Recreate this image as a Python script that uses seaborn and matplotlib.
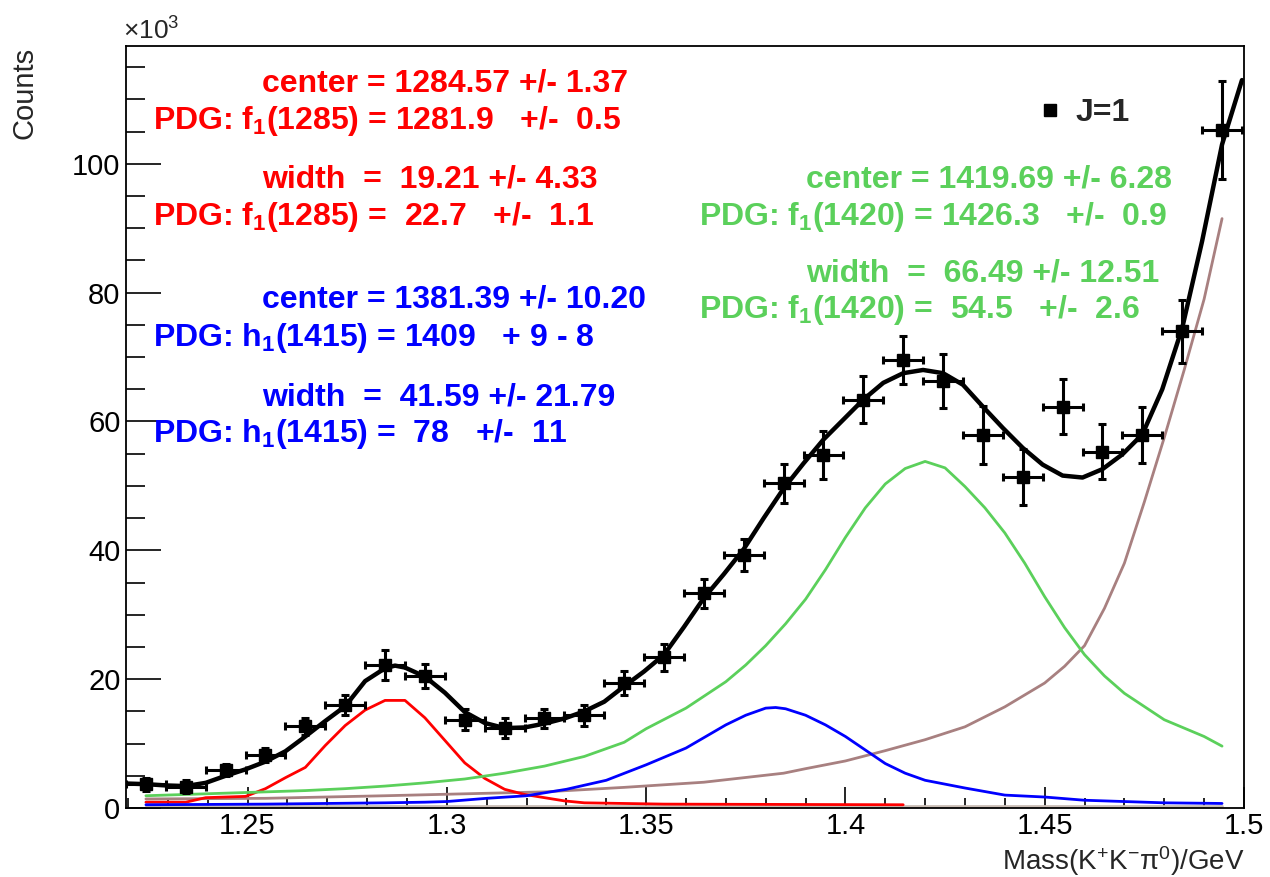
import numpy as np
import pandas as pd
import matplotlib
matplotlib.use("Agg")
import matplotlib.pyplot as plt
from matplotlib.ticker import MultipleLocator
from matplotlib.lines import Line2D
import seaborn as sns

# data points (mass bin centres, counts in units of 10^3)
mass = [1.2245, 1.2345, 1.2445, 1.2545, 1.2645, 1.2745, 1.2845, 1.2945,
        1.3045, 1.3145, 1.3245, 1.3345, 1.3445, 1.3545, 1.3645, 1.3745,
        1.3845, 1.3945, 1.4045, 1.4145, 1.4245, 1.4345, 1.4445, 1.4545,
        1.4645, 1.4745, 1.4845, 1.4945]
counts = [3.7, 3.3, 5.9, 8.2, 12.7, 16.0, 22.2, 20.5,
          13.7, 12.4, 13.9, 14.4, 19.4, 23.4, 33.3, 39.3,
          50.4, 54.8, 63.4, 69.5, 66.3, 57.9, 51.4, 62.3,
          55.3, 57.9, 74.0, 105.3]
count_err = [1.0, 1.0, 1.0, 1.1, 1.3, 1.6, 2.3, 1.9,
             1.6, 1.5, 1.5, 1.6, 1.8, 2.1, 2.3, 2.5,
             3.0, 3.8, 3.7, 3.7, 4.2, 4.5, 4.4, 4.3,
             4.3, 4.4, 4.9, 7.6]
bin_half = 0.005

# total fit
fit_x = [1.2195, 1.2245, 1.2295, 1.2345, 1.2395, 1.2445, 1.2495, 1.2545,
         1.2595, 1.2645, 1.2695, 1.2745, 1.2795, 1.2845, 1.2870, 1.2895,
         1.2945, 1.2995, 1.3045, 1.3095, 1.3145, 1.3195, 1.3245, 1.3295,
         1.3345, 1.3395, 1.3445, 1.3495, 1.3545, 1.3595, 1.3645, 1.3695,
         1.3745, 1.3795, 1.3845, 1.3895, 1.3945, 1.3995, 1.4045, 1.4095,
         1.4145, 1.4195, 1.4245, 1.4295, 1.4345, 1.4395, 1.4445, 1.4495,
         1.4545, 1.4595, 1.4645, 1.4695, 1.4745, 1.4795, 1.4845, 1.4895,
         1.4945, 1.4995]
fit_y = [3.8, 3.7, 3.5, 3.4, 3.9, 5.0, 6.0, 7.2,
         8.8, 11.1, 13.5, 15.8, 19.7, 21.7, 22.1, 21.8,
         20.4, 17.9, 14.9, 13.2, 12.4, 12.5, 13.1, 13.9,
         15.0, 16.5, 18.9, 21.2, 23.8, 28.1, 32.6, 36.3,
         40.2, 45.0, 49.6, 53.5, 57.2, 60.3, 63.4, 66.0,
         67.5, 68.0, 67.5, 65.7, 62.3, 59.0, 55.9, 53.3,
         51.6, 51.3, 52.6, 54.9, 58.0, 65.0, 74.5, 88.0,
         103.0, 113.0]

# f1(1285) component
red_x = [1.2245, 1.2345, 1.2395, 1.2445, 1.2495, 1.2545, 1.2595, 1.2645,
         1.2695, 1.2745, 1.2795, 1.2845, 1.2895, 1.2945, 1.2995, 1.3045,
         1.3095, 1.3145, 1.3195, 1.3245, 1.3295, 1.3345, 1.3545, 1.4145]
red_y = [0.9, 0.9, 1.6, 1.7, 1.8, 3.0, 4.7, 6.3,
         9.7, 12.8, 15.2, 16.7, 16.7, 14.0, 10.5, 7.0,
         4.6, 2.9, 2.1, 1.6, 1.1, 0.8, 0.6, 0.5]

# h1(1415) component
blue_x = [1.2245, 1.2545, 1.2845, 1.2945, 1.3000, 1.3100, 1.3200, 1.3300,
          1.3400, 1.3500, 1.3600, 1.3650, 1.3700, 1.3750, 1.3800, 1.3825,
          1.3850, 1.3900, 1.3950, 1.4000, 1.4050, 1.4100, 1.4150, 1.4200,
          1.4300, 1.4400, 1.4500, 1.4600, 1.4700, 1.4800, 1.4945]
blue_y = [0.5, 0.6, 0.8, 0.9, 1.0, 1.5, 1.9, 2.9,
          4.3, 6.7, 9.3, 11.1, 12.9, 14.4, 15.5, 15.6,
          15.4, 14.4, 12.9, 11.1, 9.0, 6.9, 5.4, 4.3,
          3.1, 2.0, 1.7, 1.2, 1.0, 0.8, 0.7]

# f1(1420) component
green_x = [1.2245, 1.2345, 1.2445, 1.2545, 1.2645, 1.2745, 1.2845, 1.2945,
           1.3045, 1.3145, 1.3245, 1.3345, 1.3445, 1.3500, 1.3600, 1.3700,
           1.3750, 1.3800, 1.3850, 1.3900, 1.3950, 1.4000, 1.4050, 1.4100,
           1.4150, 1.4200, 1.4250, 1.4300, 1.4350, 1.4400, 1.4450, 1.4500,
           1.4550, 1.4600, 1.4650, 1.4700, 1.4800, 1.4900, 1.4945]
green_y = [1.9, 2.1, 2.3, 2.5, 2.7, 3.0, 3.4, 3.9,
           4.5, 5.4, 6.5, 8.0, 10.2, 12.3, 15.5, 19.6,
           22.2, 25.2, 28.6, 32.4, 37.0, 42.0, 46.6, 50.3,
           52.7, 53.8, 52.8, 49.9, 46.6, 42.7, 38.0, 32.8,
           28.0, 23.8, 20.5, 17.8, 13.7, 11.1, 9.6]

# background
bkg_x = [1.2245, 1.2545, 1.2845, 1.3045, 1.3245, 1.3445, 1.3645, 1.3845,
         1.3900, 1.4000, 1.4100, 1.4200, 1.4300, 1.4400, 1.4500, 1.4550,
         1.4600, 1.4650, 1.4700, 1.4750, 1.4800, 1.4850, 1.4900, 1.4945]
bkg_y = [1.4, 1.5, 1.9, 2.2, 2.5, 3.2, 4.0, 5.4,
         6.1, 7.3, 8.9, 10.6, 12.6, 15.7, 19.4, 22.0,
         25.2, 31.0, 38.0, 47.5, 57.5, 68.0, 79.0, 91.5]

# flat (zero) component
zero_x = [1.2245, 1.4945]
zero_y = [0.3, 0.3]

sns.set_style("ticks")
plt.rcParams['font.family'] = ['Liberation Sans', 'DejaVu Sans']
plt.rcParams['mathtext.fontset'] = 'custom'
plt.rcParams['mathtext.rm'] = 'Liberation Sans'
plt.rcParams['mathtext.bf'] = 'Liberation Sans:bold'
plt.rcParams['mathtext.it'] = 'Liberation Sans:italic'

fig = plt.figure(figsize=(12.7, 8.77), dpi=100)
ax = fig.add_axes([0.0992, 0.0787, 0.8803, 0.8689])

green = "#5bd05b"
brown = "#a88080"

sns.lineplot(x=zero_x, y=zero_y, ax=ax, color="#c9bdb5", linewidth=2.0)
sns.lineplot(x=bkg_x, y=bkg_y, ax=ax, color=brown, linewidth=2.0)
sns.lineplot(x=red_x, y=red_y, ax=ax, color="#ff0000", linewidth=2.0)
sns.lineplot(x=blue_x, y=blue_y, ax=ax, color="#0000ff", linewidth=2.0)
sns.lineplot(x=green_x, y=green_y, ax=ax, color=green, linewidth=2.0)
sns.lineplot(x=fit_x, y=fit_y, ax=ax, color="black", linewidth=3.2)

ax.errorbar(mass, counts, xerr=bin_half, yerr=count_err, fmt='s', color='black',
            markersize=9, elinewidth=2.2, capsize=3, capthick=2.2, zorder=5)

ax.set_xlim(1.2195, 1.5)
ax.set_ylim(0, 118.3)
ax.xaxis.set_minor_locator(MultipleLocator(0.01))
ax.yaxis.set_major_locator(MultipleLocator(20))
ax.yaxis.set_minor_locator(MultipleLocator(5))
ax.set_xticks([1.25, 1.3, 1.35, 1.4, 1.45, 1.5])
ax.set_xticklabels(["1.25", "1.3", "1.35", "1.4", "1.45", "1.5"])
ax.tick_params(axis='both', which='both', direction='in', labelsize=21,
               width=1.2, colors='black')
ax.tick_params(axis='x', which='major', length=15, pad=3)
ax.tick_params(axis='x', which='minor', length=7)
ax.tick_params(axis='y', which='major', length=25, pad=4)
ax.tick_params(axis='y', which='minor', length=14)
ax.tick_params(top=False, right=False, which='both')
for sp in ax.spines.values():
    sp.set_linewidth(1.3)
    sp.set_color('black')

ax.set_xlabel("")
ax.set_ylabel("")
fig.text(1245 / 1270, 1 - 861 / 877, "Mass(K$^{+}$K$^{-}$π$^{0}$)/GeV", fontsize=20,
         ha='right', va='center')
fig.text(24 / 1270, 1 - 47 / 877, "Counts", fontsize=21, rotation=90,
         ha='center', va='top')
fig.text(123 / 1270, 1 - 40 / 877, "×10$^{3}$", fontsize=19, ha='left', va='baseline')

# legend
handle = Line2D([], [], marker='s', color='black', linestyle='none', markersize=9)
leg = ax.legend([handle], ["J=1"], loc='center left',
                bbox_to_anchor=((1040 - 126) / 1118, (808 - 113) / 762),
                frameon=False, handlelength=0.6, handletextpad=0.5, borderpad=0,
                borderaxespad=0, prop={'weight': 'bold', 'size': 23})

# fit results
def label(px, py, s, color):
    fig.text(px / 1270, 1 - py / 877, s, color=color, fontsize=23,
             fontweight='bold', ha='left', va='center')

label(262, 83, "center = 1284.57 +/- 1.37", "#ff0000")
label(153, 121, r"PDG: f$_\mathbf{1}$(1285) = 1281.9   +/-  0.5", "#ff0000")
label(262, 179, "width  =  19.21 +/- 4.33", "#ff0000")
label(153, 217, r"PDG: f$_\mathbf{1}$(1285) =  22.7   +/-  1.1", "#ff0000")

label(262, 300, "center = 1381.39 +/- 10.20", "#0000ff")
label(153, 338, r"PDG: h$_\mathbf{1}$(1415) = 1409   + 9 - 8", "#0000ff")
label(262, 397, "width  =  41.59 +/- 21.79", "#0000ff")
label(153, 434, r"PDG: h$_\mathbf{1}$(1415) =  78   +/-  11", "#0000ff")

label(806, 180, "center = 1419.69 +/- 6.28", green)
label(699, 217, r"PDG: f$_\mathbf{1}$(1420) = 1426.3   +/-  0.9", green)
label(806, 273, "width  =  66.49 +/- 12.51", green)
label(699, 310, r"PDG: f$_\mathbf{1}$(1420) =  54.5   +/-  2.6", green)

fig.savefig("out.png", dpi=100)
